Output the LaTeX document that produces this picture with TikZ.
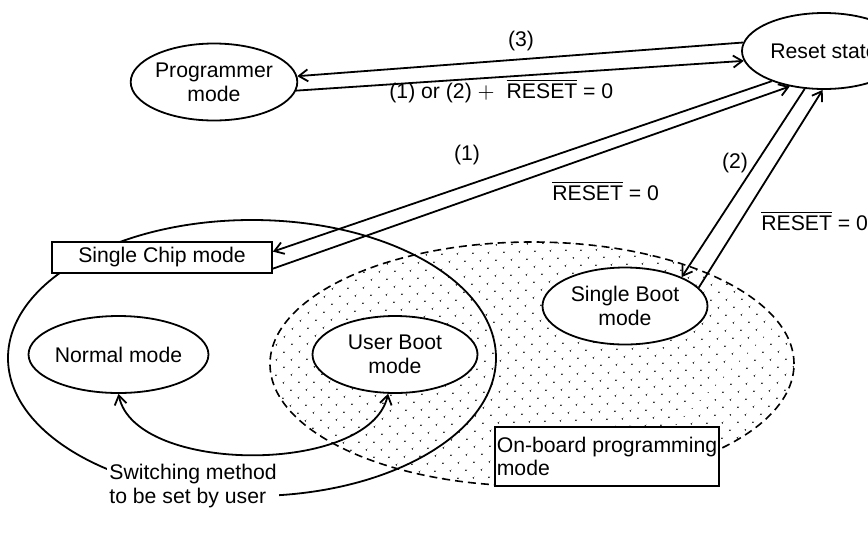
\documentclass[tikz,border=0pt]{standalone}
\usepackage{fontspec}
\setmainfont{Liberation Sans}
\usetikzlibrary{shapes.geometric,patterns.meta,calc,arrows.meta}
\begin{document}
\begin{tikzpicture}[x=0.5pt,y=-0.5pt,
  every node/.style={font=\fontsize{10.6}{11.9}\selectfont},
  conn/.style={line width=0.9pt},
  arr/.style={conn,-{Straight Barb[length=4.5pt,width=6pt]}},
  modeell/.style={ellipse,draw,line width=0.9pt,fill=white,inner sep=0pt,
    minimum width=82.5pt,minimum height=38.5pt,align=center},
  lbl/.style={inner sep=0pt},
]
\clip (0,0) rectangle (868,547);
% on-board programming region
\node[ellipse,draw,line width=0.8pt,dash pattern=on 4pt off 2.5pt,
  pattern={Dots[distance=5.4pt,angle=45,radius=0.5pt]},pattern color=black!80,
  minimum width=262pt,minimum height=122pt,inner sep=0pt] (onboard) at (532,364) {};
% single chip region
\node[ellipse,draw,line width=0.9pt,minimum width=244pt,minimum height=138pt,inner sep=0pt] (region) at (252,358) {};
% labels covering region
\node[fill=white,align=left,anchor=base west,inner xsep=1pt,inner ysep=1pt] (switch) at (107,503) {Switching method\\to be set by user};
\node[draw,line width=0.9pt,fill=white,minimum width=110pt,minimum height=15.5pt,inner sep=0pt] (chip) at (162,257.5) {Single Chip mode};
\node[draw,line width=0.9pt,fill=white,minimum width=112pt,minimum height=29.5pt,inner sep=0pt,align=left] (obox) at (607,456.5) {On-board programming\\mode};
% mode ellipses
\node[modeell] (prog) at (214,82) {Programmer\\mode};
\node[modeell,minimum width=82pt,minimum height=38pt] (reset) at (824,51) {Reset state};
\node[modeell] (normal) at (118.5,354.5) {Normal mode};
\node[modeell] (uboot) at (395,354.5) {User Boot\\mode};
\node[modeell] (sboot) at (625,306) {Single Boot\\mode};
% connectors
\draw[arr] (reset.174) -- (prog.4);
\draw[arr] (prog.-6) -- (reset.187);
\draw[arr] (reset.210) -- ($(chip.north east)!0.32!(chip.south east)$);
\draw[arr] ($(chip.north east)!0.84!(chip.south east)$) -- (reset.226);
\draw[arr] (reset.243) -- (sboot.27);
\draw[arr] (sboot.14) -- (reset.268);
\draw[conn,{Straight Barb[length=4.5pt,width=6pt]}-{Straight Barb[length=4.5pt,width=6pt]}]
  (normal.south) .. controls (135,475) and (370,475) .. (uboot.260);
% connector labels
\node[lbl] (l3) at (521,41) {(3)};
\node[lbl,anchor=base west] (l12) at (389,98) {(1) or (2) $+$\hspace{3pt} $\overline{\hbox{RESET}}$ = 0};
\node[lbl] (l1) at (467,155) {(1)};
\node[lbl,anchor=base west] (lr1) at (552,200) {$\overline{\hbox{RESET}}$ = 0};
\node[lbl] (l2) at (735,163) {(2)};
\node[lbl,anchor=base west] (lr2) at (761,230) {$\overline{\hbox{RESET}}$ = 0};
\end{tikzpicture}
\end{document}
